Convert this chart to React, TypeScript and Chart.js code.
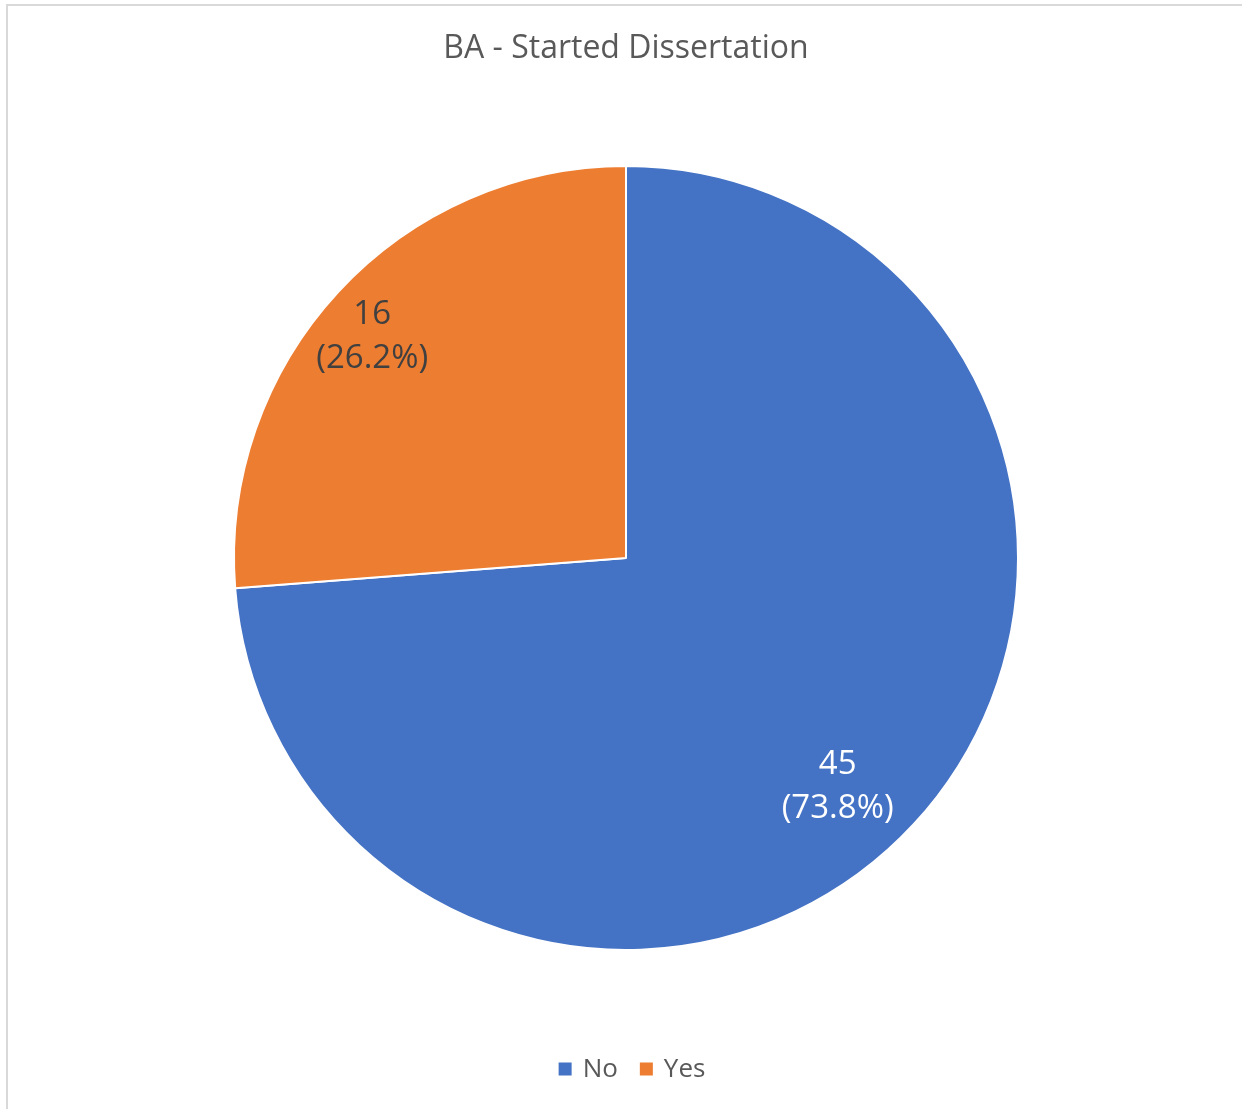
import React, { useEffect, useRef } from "react";
import { Chart, registerables } from "chart.js";

Chart.register(...registerables);

const titleText = "BA - Started Dissertation";
const categories = ["No", "Yes"];
const counts = [45, 16];
const sliceColors = ["#4472C4", "#ED7D31"];
const labelTextColors = ["#FFFFFF", "#404040"];
// label placement: fraction of radius and angular nudge (degrees) from slice mid-angle
const labelRadius = [0.79, 0.863];
const labelAngleShift = [4.1, -1.4];

const FONT = "'Open Sans', 'Noto Sans', sans-serif";

const decorPlugin = {
  id: "decor",
  beforeDraw(chart: any) {
    const ctx = chart.ctx;
    ctx.save();
    ctx.fillStyle = "#FFFFFF";
    ctx.fillRect(0, 0, chart.width, chart.height);
    ctx.fillStyle = "#D9D9D9";
    ctx.fillRect(6, 4, chart.width, 2);
    ctx.fillRect(6, 4, 2, chart.height);
    // title
    ctx.fillStyle = "#595959";
    ctx.font = `32px ${FONT}`;
    ctx.textAlign = "center";
    ctx.textBaseline = "middle";
    ctx.fillText(titleText, 626, 49);
    // legend
    ctx.font = `26px ${FONT}`;
    ctx.textAlign = "left";
    const box = 13;
    const gapBoxText = 11;
    const gapItems = 22;
    const widths = categories.map((c) => ctx.measureText(c).width);
    let total = 0;
    widths.forEach((w, i) => {
      total += box + gapBoxText + w + (i < widths.length - 1 ? gapItems : 0);
    });
    let x = 632 - total / 2;
    const y = 1069;
    categories.forEach((c, i) => {
      ctx.fillStyle = sliceColors[i];
      ctx.fillRect(x, y - box / 2, box, box);
      ctx.fillStyle = "#595959";
      ctx.fillText(c, x + box + gapBoxText, y + 1);
      x += box + gapBoxText + widths[i] + gapItems;
    });
    ctx.restore();
  },
  afterDatasetsDraw(chart: any) {
    const ctx = chart.ctx;
    const meta = chart.getDatasetMeta(0);
    const data = chart.data.datasets[0].data as number[];
    const sum = data.reduce((a, b) => a + b, 0);
    ctx.save();
    ctx.font = `33px ${FONT}`;
    ctx.textAlign = "center";
    ctx.textBaseline = "middle";
    meta.data.forEach((arc: any, i: number) => {
      const p = arc.getProps(["x", "y", "startAngle", "endAngle", "outerRadius"], true);
      const mid = (p.startAngle + p.endAngle) / 2 + (labelAngleShift[i] * Math.PI) / 180;
      const r = p.outerRadius * labelRadius[i];
      const cx = p.x + Math.cos(mid) * r;
      const cy = p.y + Math.sin(mid) * r + 2.5;
      ctx.fillStyle = labelTextColors[i];
      const pct = ((data[i] / sum) * 100).toFixed(1);
      ctx.fillText(String(data[i]), cx, cy - 22);
      ctx.fillText(`(${pct}%)`, cx, cy + 22);
    });
    ctx.restore();
  },
};

export default function App() {
  const ref = useRef<HTMLCanvasElement | null>(null);
  useEffect(() => {
    document.body.style.margin = "0";
    if (!ref.current) return;
    const chart = new Chart(ref.current, {
      type: "pie",
      data: {
        labels: categories,
        datasets: [
          {
            data: counts,
            backgroundColor: sliceColors,
            borderColor: "#FFFFFF",
            borderWidth: 2,
            hoverOffset: 0,
          },
        ],
      },
      options: {
        responsive: false,
        animation: false,
        events: [],
        layout: { padding: { left: 233, right: 223, top: 165, bottom: 158 } },
        plugins: {
          legend: { display: false },
          title: { display: false },
          tooltip: { enabled: false },
        },
      },
      plugins: [decorPlugin],
    });
    return () => chart.destroy();
  }, []);
  return (
    <div style={{ position: "absolute", left: 0, top: 0, width: 1242, height: 1109 }}>
      <canvas ref={ref} width={1242} height={1109} style={{ display: "block" }} />
    </div>
  );
}
